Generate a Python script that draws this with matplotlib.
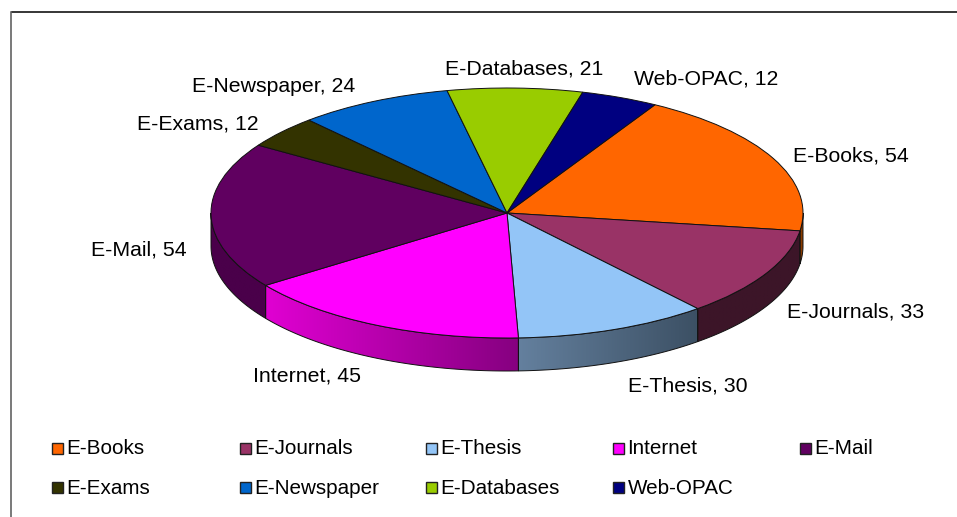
import numpy as np
import matplotlib
matplotlib.use("Agg")
import matplotlib.pyplot as plt
from matplotlib.colors import to_rgb
from matplotlib.patches import Rectangle, Polygon
from matplotlib.lines import Line2D

plt.rcParams['font.family'] = ['Liberation Sans', 'DejaVu Sans']

categories = ["E-Books", "E-Journals", "E-Thesis", "Internet", "E-Mail",
              "E-Exams", "E-Newspaper", "E-Databases", "Web-OPAC"]
values = [54, 33, 30, 45, 54, 12, 24, 21, 12]
colors = ["#FF6600", "#993366", "#93C5F7", "#FF00FF", "#600060",
          "#333300", "#0066CC", "#99CC00", "#000080"]
# side wall colours, left end to right end on screen
side_left = ["#8A3C00", "#3C1528", "#64809E", "#E000D2", "#4A004A",
             "#222200", "#004080", "#607F00", "#000050"]
side_right = ["#8A3C00", "#3C1528", "#3C5064", "#860080", "#4A004A",
              "#222200", "#004080", "#607F00", "#000050"]
# label left edge and centre y, in pixels
label_pos = [(793, 154), (787, 310), (628, 384), (253, 374), (91, 248),
             (137, 122), (192, 84), (445, 67), (634, 77)]

W, H = 957, 517
FS = 15.3
LEG_FS = 14.9
fig = plt.figure(figsize=(W / 100, H / 100), dpi=100, facecolor="white")

# frame: only top and left edges are inside the picture
fig.add_artist(Line2D([11.5 / W, 1], [1 - 11.5 / H] * 2, color="black", lw=1.1))
fig.add_artist(Line2D([11.0 / W] * 2, [0, 1 - 11.5 / H], color="#555555", lw=1.1))

left, right, top, bottom, depth_px = 211, 803, 88, 338, 33
ax = fig.add_axes([left / W, 1 - (bottom + depth_px + 2) / H, (right - left) / W,
                   (bottom + depth_px + 2 - top) / H])
depth = depth_px / ((bottom - top) / 2)
startangle = 60

wedges, _ = ax.pie(values, colors=colors, startangle=startangle, counterclock=False,
                   radius=1, wedgeprops=dict(edgecolor="#111111", linewidth=0.7))
for w in wedges:
    w.set_zorder(3)
    w.set_clip_on(False)

# side wall
ang = startangle
for val, c0, c1 in zip(values, side_left, side_right):
    sweep = val / sum(values) * 360
    a_hi, a_lo = ang, ang - sweep
    ang = a_lo
    lo = max(a_lo, -180)  # only the front half of the rim is visible
    hi = min(a_hi, 0)
    if hi <= lo:
        continue
    t = np.radians(np.linspace(lo, hi, 80))
    x, y = np.cos(t), np.sin(t)
    xs = np.r_[x, x[::-1]]
    ys = np.r_[y, y[::-1] - depth]
    c0r, c1r = np.array(to_rgb(c0)), np.array(to_rgb(c1))
    f = np.linspace(0, 1, 128)[None, :, None]
    img = c0r[None, None, :] + (c1r - c0r)[None, None, :] * f
    im = ax.imshow(img, extent=(x.min(), x.max(), ys.min(), ys.max()), aspect="auto",
                   interpolation="bilinear", zorder=1)
    outline = Polygon(np.c_[xs, ys], closed=True, fill=False, edgecolor="#111111",
                      lw=0.7, clip_on=False, zorder=2)
    ax.add_patch(outline)
    im.set_clip_path(outline)

ax.set_aspect("auto")
ax.set_xlim(-1, 1)
ax.set_ylim(-1 - (depth_px + 2) / ((bottom - top) / 2), 1)
ax.axis("off")

# data labels
for cat, val, (px, py) in zip(categories, values, label_pos):
    fig.text(px / W, 1 - py / H, f"{cat}, {val}", fontsize=FS, ha="left",
             va="center_baseline", color="black")

# legend
col_x = [51, 239, 425, 612, 799]
row_y = [447, 486]
for i, (cat, col) in enumerate(zip(categories, colors)):
    cx = col_x[i % 5]
    cy = row_y[i // 5]
    fig.add_artist(Rectangle(((cx + 0.5) / W, 1 - (cy + 6.5) / H), 11 / W, 11 / H,
                             transform=fig.transFigure, facecolor=col,
                             edgecolor="#222222", lw=1.0))
    fig.text((cx + 15.5) / W, 1 - cy / H, cat, fontsize=LEG_FS, ha="left",
             va="center_baseline", color="black")

fig.savefig("out.png", dpi=100)
